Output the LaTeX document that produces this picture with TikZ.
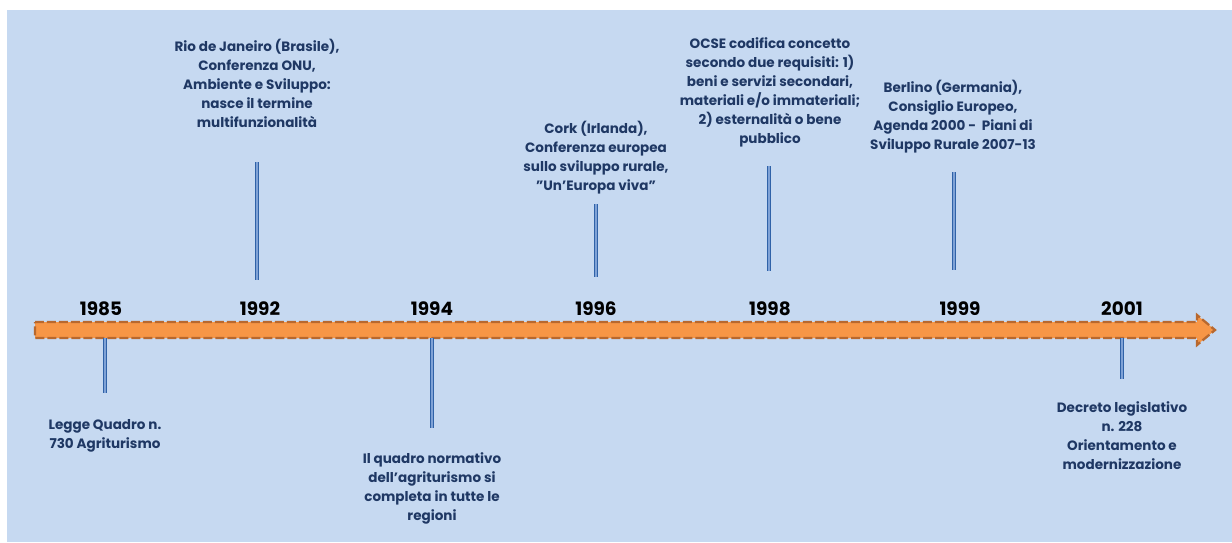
\documentclass[tikz,border=0pt]{standalone}
\usepackage{fontspec}
\setmainfont{Poppins}
\usepackage{xcolor}
\usetikzlibrary{arrows,shapes,positioning}
\definecolor{panelblue}{HTML}{C6D9F1}
\definecolor{eventnavy}{HTML}{1F3864}
\definecolor{arroworange}{HTML}{F79646}
\definecolor{arrowbrown}{HTML}{B8682E}
\definecolor{tickblue}{HTML}{2F62A8}
\definecolor{tickpale}{HTML}{7FA2D6}
\tikzset{
	eventtext/.style = {
		align = center,
		inner sep = 0pt,
		text = eventnavy,
		font = \bfseries\fontsize{7.7}{10.8}\selectfont,
	},
	yearlabel/.style = {
		inner sep = 0pt,
		font = \bfseries\fontsize{10.5}{12}\selectfont,
	},
	tickline/.style = {
		draw = tickblue,
		line width = 0.6pt,
		double = tickpale,
		double distance = 0.6pt,
	}
}

\begin{document}
\begin{tikzpicture}[x = 0.02cm, y = -0.02cm]
	\useasboundingbox (0,0) rectangle (1232,542);
	\fill[white](0,0) rectangle (1232,542);
	\fill[panelblue](7,10) rectangle (1232,542);
	
	% timeline arrow
	\draw[fill = arroworange, draw = arrowbrown, line width = 1.3pt, dash pattern = on 0.18cm off 0.06cm]
		(35,322) -- (1197,322) -- (1197,315) -- (1215,330) -- (1197,345) -- (1197,338) -- (35,338) -- cycle;
	
	% years
	\node[yearlabel](y1985) at (101,309){1985};
	\node[yearlabel](y1992) at (260,309){1992};
	\node[yearlabel](y1994) at (432,309){1994};
	\node[yearlabel](y1996) at (596,309){1996};
	\node[yearlabel](y1998) at (770,309){1998};
	\node[yearlabel](y1999) at (960,309){1999};
	\node[yearlabel](y2001) at (1122,309){2001};
	
	% events
	\node[eventtext](rio) at (257,83){Rio de Janeiro (Brasile),\\Conferenza ONU,\\Ambiente e Sviluppo:\\nasce il termine\\multifunzionalità};
	\node[eventtext](cork) at (596,158){Cork (Irlanda),\\Conferenza europea\\sullo sviluppo rurale,\\\symbol{34}Un'Europa viva\symbol{34}};
	\node[eventtext](ocse) at (770,92){OCSE codifica concetto\\secondo due requisiti: 1)\\beni e servizi secondari,\\materiali e/o immateriali;\\2) esternalità o bene\\pubblico};
	\node[eventtext](berlino) at (953,117){Berlino (Germania),\\Consiglio Europeo,\\Agenda 2000 -~~Piani di\\Sviluppo Rurale 2007-13};
	\node[eventtext](legge) at (105,436){Legge Quadro n.\\730 Agriturismo};
	\node[eventtext](quadro) at (432,488){Il quadro normativo\\dell\symbol{39}agriturismo si\\completa in tutte le\\regioni};
	\node[eventtext](decreto) at (1122,436){Decreto legislativo\\n. 228\\Orientamento e\\modernizzazione};
	
	% ticks
	\coordinate (t1985a) at (105,338); \coordinate (t1985b) at (105,393);
	\coordinate (t1992a) at (257,162); \coordinate (t1992b) at (257,280);
	\coordinate (t1994a) at (432,338); \coordinate (t1994b) at (432,428);
	\coordinate (t1996a) at (596,204); \coordinate (t1996b) at (596,277);
	\coordinate (t1998a) at (769,166); \coordinate (t1998b) at (769,271);
	\coordinate (t1999a) at (954,172); \coordinate (t1999b) at (954,270);
	\coordinate (t2001a) at (1122,338); \coordinate (t2001b) at (1122,379);
	\foreach \yr in {1985,1992,1994,1996,1998,1999,2001}
		\draw[tickline](t\yr a)--(t\yr b);
\end{tikzpicture}
\end{document}
